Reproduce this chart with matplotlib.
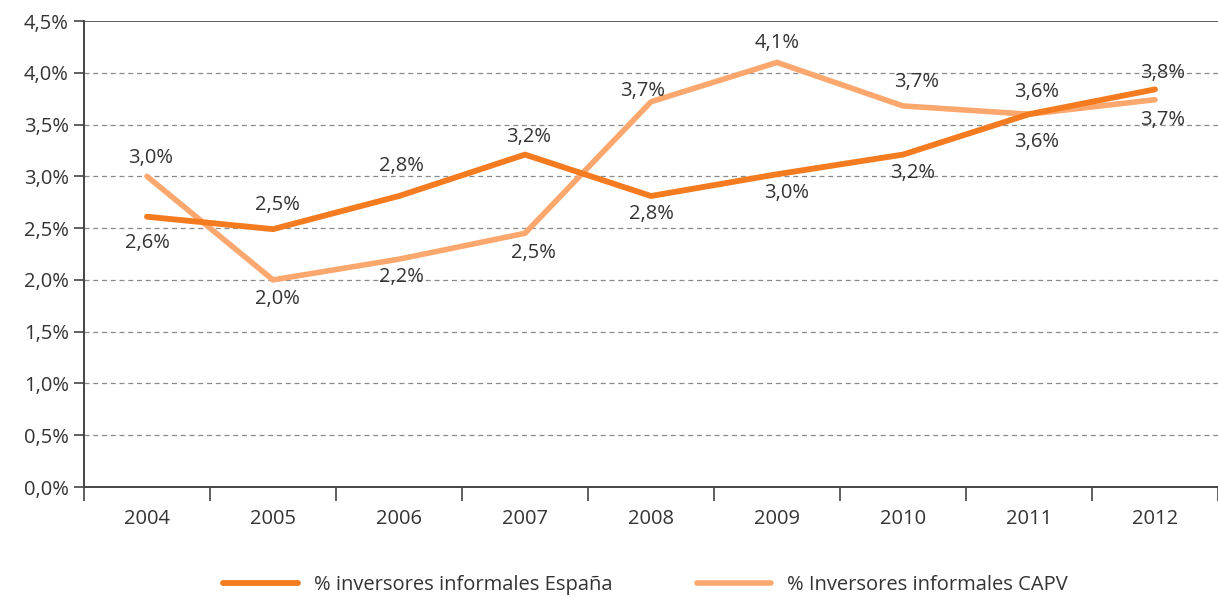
import matplotlib
matplotlib.use("Agg")
import matplotlib.pyplot as plt
import numpy as np

years = ["2004", "2005", "2006", "2007", "2008", "2009", "2010", "2011", "2012"]
espana = [2.61, 2.49, 2.81, 3.21, 2.81, 3.02, 3.21, 3.60, 3.84]
capv = [3.00, 2.00, 2.20, 2.45, 3.72, 4.10, 3.68, 3.60, 3.74]
espana_labels = ["2,6%", "2,5%", "2,8%", "3,2%", "2,8%", "3,0%", "3,2%", "3,6%", "3,8%"]
capv_labels = ["3,0%", "2,0%", "2,2%", "2,5%", "3,7%", "4,1%", "3,7%", "3,6%", "3,7%"]

# label offsets from the point, in pixels (dx, dy; dy positive = up)
espana_off = [(0, -26), (4, 24), (2, 30), (4, 18), (0, -18), (10, -19), (10, -18), (8, 22), (8, 16)]
capv_off = [(4, 18), (4, -19), (2, -18), (8, -20), (-8, 11), (0, 19), (14, 24), (8, -28), (8, -20)]

c_esp = "#F47B20"
c_capv = "#FBA76D"
txt = "#333333"
fs = 14.5

plt.rcParams["font.family"] = ["Open Sans", "DejaVu Sans"]

fig = plt.figure(figsize=(12.18, 5.99), dpi=100)
ax = fig.add_axes([84 / 1218, 1 - 487 / 599, 1 - 84 / 1218, (487 - 21) / 599])

x = np.arange(len(years))
ax.plot(x, espana, color=c_esp, lw=4.2, solid_capstyle="round",
        label="% inversores informales España", zorder=3)
ax.plot(x, capv, color=c_capv, lw=4.0, solid_capstyle="round",
        label="% Inversores informales CAPV", zorder=2)

px = 72 / fig.dpi
for vals, labs, offs in [(espana, espana_labels, espana_off),
                         (capv, capv_labels, capv_off)]:
    for xi, v, lab, (dx, dy) in zip(x, vals, labs, offs):
        ax.annotate(lab, (xi, v), xytext=(dx * px, dy * px),
                    textcoords="offset points", ha="center", va="center",
                    fontsize=fs, color=txt, zorder=4)

ax.set_xlim(-0.5, len(years) - 0.5)
ax.set_ylim(0, 4.5)
yt = np.arange(0, 4.51, 0.5)
ax.set_yticks(yt)
ax.set_yticklabels([("%.1f%%" % v).replace(".", ",") for v in yt])
ax.set_xticks(x)
ax.set_xticklabels(years)
ax.set_xticks(np.arange(-0.5, len(years), 1.0), minor=True)
ax.tick_params(axis="x", which="major", length=0, pad=16, labelsize=fs, labelcolor=txt)
ax.tick_params(axis="x", which="minor", length=10, width=1.2, color="#444444", direction="out")
ax.tick_params(axis="y", length=7, width=1.2, color="#444444", pad=4,
               labelsize=fs, labelcolor=txt)

for v in yt[1:-1]:
    ax.axhline(v, color="#8a8a8a", lw=0.9, ls=(0, (4, 3)), zorder=1)
ax.axhline(4.5, color="#444444", lw=1.2, zorder=1)

for side in ["right", "top"]:
    ax.spines[side].set_visible(False)
for side in ["left", "bottom"]:
    ax.spines[side].set_color("#444444")
    ax.spines[side].set_linewidth(1.4)

leg = fig.legend(loc="center", bbox_to_anchor=(0.53, 1 - 585 / 599), ncol=2,
                 frameon=False, fontsize=fs, handlelength=3.7, handletextpad=0.8,
                 columnspacing=4.2)
for t in leg.get_texts():
    t.set_color(txt)

fig.savefig("out.png", dpi=100)
